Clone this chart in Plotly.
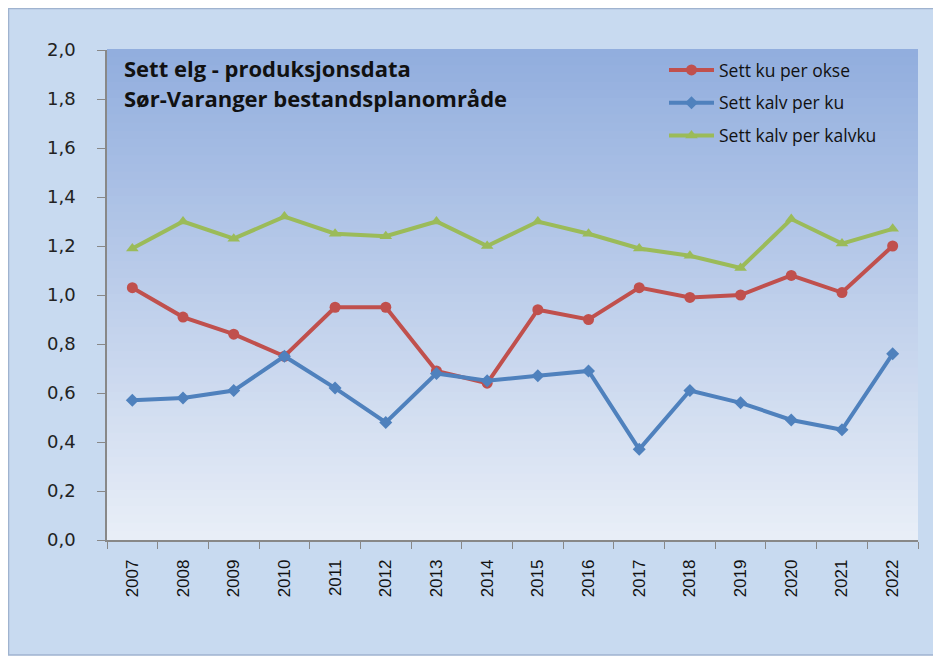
import plotly.graph_objects as go

years = [str(y) for y in range(2007, 2023)]
ku_per_okse = [1.03, 0.91, 0.84, 0.75, 0.95, 0.95, 0.69, 0.64, 0.94, 0.90, 1.03, 0.99, 1.00, 1.08, 1.01, 1.20]
kalv_per_ku = [0.57, 0.58, 0.61, 0.75, 0.62, 0.48, 0.68, 0.65, 0.67, 0.69, 0.37, 0.61, 0.56, 0.49, 0.45, 0.76]
kalv_per_kalvku = [1.19, 1.30, 1.23, 1.32, 1.25, 1.24, 1.30, 1.20, 1.30, 1.25, 1.19, 1.16, 1.11, 1.31, 1.21, 1.27]
y_ticks = [0.0, 0.2, 0.4, 0.6, 0.8, 1.0, 1.2, 1.4, 1.6, 1.8, 2.0]

# page body has an 8px margin; figure is sized to fit the window
OFF = 8
W, H = 941 - OFF, 659 - OFF
L, R, T, B = 107 - OFF, 23, 50 - OFF, 119
pw, ph = W - L - R, H - T - B

def px_x(p):
    return (p - OFF - L) / pw

def px_y(p):
    return (H - B - (p - OFF)) / ph

fig = go.Figure()
fig.add_trace(go.Scatter(x=years, y=ku_per_okse, name="Sett ku per okse", mode="lines+markers",
                         legendgroup="a",
                         line=dict(color="#c0504d", width=4),
                         marker=dict(symbol="circle", size=11, color="#c0504d")))
fig.add_trace(go.Scatter(x=years, y=kalv_per_ku, name="Sett kalv per ku", mode="lines+markers",
                         legendgroup="b",
                         line=dict(color="#4f81bd", width=4),
                         marker=dict(symbol="diamond", size=10, color="#4f81bd")))
fig.add_trace(go.Scatter(x=years, y=kalv_per_kalvku, name="Sett kalv per kalvku", mode="lines+markers",
                         legendgroup="c",
                         line=dict(color="#9bbb59", width=4),
                         marker=dict(symbol="triangle-up", size=11, color="#9bbb59")))

shapes = []
# outer frame
shapes.append(dict(type="rect", xref="paper", yref="paper", layer="below",
                   x0=px_x(8.5), x1=px_x(934), y0=px_y(655), y1=px_y(8.5),
                   fillcolor="#c8daf0", line=dict(color="#9fb3cf", width=1.5)))
# gradient plot area
n = 60
top = (146, 174, 222)
bot = (232, 238, 247)
for i in range(n):
    f = i / (n - 1)
    c = tuple(int(round(top[k] + (bot[k] - top[k]) * f)) for k in range(3))
    shapes.append(dict(type="rect", xref="paper", yref="paper", layer="below",
                       x0=0, x1=1, y0=1 - (i + 1) / n, y1=1 - i / n + 0.002,
                       fillcolor="rgb(%d,%d,%d)" % c, line=dict(width=0)))

fig.update_layout(
    width=W, height=H,
    margin=dict(l=L, r=R, t=T, b=B),
    paper_bgcolor="white",
    plot_bgcolor="rgba(0,0,0,0)",
    separators=", ",
    shapes=shapes,
    showlegend=True,
    legend=dict(x=px_x(664), y=px_y(52), xanchor="left", yanchor="top",
                bgcolor="rgba(0,0,0,0)", font=dict(family="Open Sans", size=17.5, color="#111"),
                tracegroupgap=7, itemwidth=45),
    xaxis=dict(type="category", tickson="boundaries", ticks="outside", ticklen=7,
               tickcolor="#888", showline=True, linecolor="#888", linewidth=1.5,
               showgrid=False, tickangle=-90, ticklabelstandoff=11,
               tickfont=dict(family="Liberation Sans", size=17, color="#111"),
               range=[-0.5, len(years) - 0.5]),
    yaxis=dict(range=[0, 2.0], tickvals=y_ticks, tickformat=".1f", ticks="outside", ticklen=8,
               tickcolor="#888", showline=True, linecolor="#888", linewidth=1.5,
               showgrid=False, zeroline=False, ticklabelstandoff=18,
               tickfont=dict(family="DejaVu Sans", size=18, color="#222")),
    annotations=[
        dict(text="<b>Sett elg - produksjonsdata</b>", xref="paper", yref="paper",
             x=px_x(122), y=px_y(68), xanchor="left", yanchor="middle", showarrow=False,
             font=dict(family="Open Sans", size=22, color="#111")),
        dict(text="<b>Sør-Varanger bestandsplanområde</b>", xref="paper", yref="paper",
             x=px_x(122), y=px_y(98), xanchor="left", yanchor="middle", showarrow=False,
             font=dict(family="Open Sans", size=22, color="#111")),
    ],
)

fig.write_html("out.html")
